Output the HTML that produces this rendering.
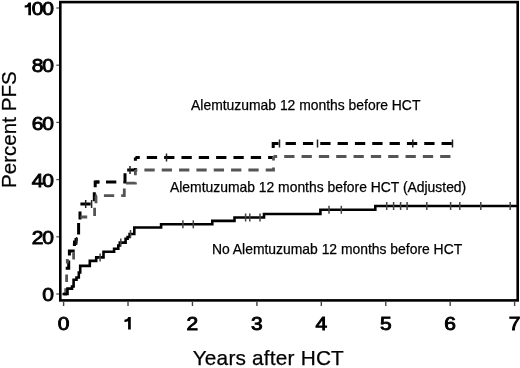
<!DOCTYPE html>
<html><head><meta charset="utf-8"><style>
html,body{margin:0;padding:0;background:#fff;width:520px;height:368px;overflow:hidden}
svg{display:block;will-change:transform}
text{font-family:"Liberation Sans",sans-serif;fill:#000;stroke:#000;stroke-width:0.25px}
.d{font-size:17.5px;stroke:#000;stroke-width:0.85px}
</style></head><body>
<svg width="520" height="368" viewBox="0 0 520 368">
<rect x="60.3" y="2.1" width="457.4" height="298.3" fill="none" stroke="#000" stroke-width="2.6"/>
<path d="M63.60,301.5V306" stroke="#444" stroke-width="1.4"/><path d="M128.03,301.5V306" stroke="#444" stroke-width="1.4"/><path d="M192.46,301.5V306" stroke="#444" stroke-width="1.4"/><path d="M256.89,301.5V306" stroke="#444" stroke-width="1.4"/><path d="M321.32,301.5V306" stroke="#444" stroke-width="1.4"/><path d="M385.75,301.5V306" stroke="#444" stroke-width="1.4"/><path d="M450.18,301.5V306" stroke="#444" stroke-width="1.4"/><path d="M514.61,301.5V306" stroke="#444" stroke-width="1.4"/><path d="M56.3,294.00H59" stroke="#555" stroke-width="1.3"/><path d="M56.3,236.80H59" stroke="#555" stroke-width="1.3"/><path d="M56.3,179.60H59" stroke="#555" stroke-width="1.3"/><path d="M56.3,122.40H59" stroke="#555" stroke-width="1.3"/><path d="M56.3,65.20H59" stroke="#555" stroke-width="1.3"/><path d="M56.3,8.00H59" stroke="#555" stroke-width="1.3"/>
<path d="M65.7,268.3H68.7V260.4M69.4,255.6V251H74.7M72.9,244.5H74.5V242H76V239.5H77.8M78.6,234.6V223M80,219.6V211.4" fill="none" stroke="#000" stroke-width="3"/><path d="M80.4,204H90.7M94.3,201.2V192.3M95.2,187.3V182H99.6" fill="none" stroke="#000" stroke-width="3"/><path d="M95.20,182.00 L125.00,182.00 L125.00,170.00" fill="none" stroke="#000" stroke-width="3" stroke-dasharray="10.3 7.03" stroke-dashoffset="6.53"/><path d="M125.00,170.00 L135.40,170.00 L135.40,157.50" fill="none" stroke="#000" stroke-width="3" stroke-dasharray="10.3 7.03" stroke-dashoffset="15.13"/><path d="M135.40,157.50 L273.20,157.50" fill="none" stroke="#000" stroke-width="3" stroke-dasharray="10.3 7.03" stroke-dashoffset="5.93"/><path d="M273.20,148.00 L273.20,143.50 L452.50,143.50" fill="none" stroke="#000" stroke-width="3" stroke-dasharray="10.3 7.03" stroke-dashoffset="0.43"/>
<path d="M63.6,294H65.7V288.2M66.6,282V274.5M67.3,263.5V259M72.3,258.2H73.6V252.3" fill="none" stroke="#555" stroke-width="2.8"/><path d="M80.4,217H87.2M94.6,216V207.7M96,203.2V195.7" fill="none" stroke="#555" stroke-width="2.8"/><path d="M95.60,195.70 L124.30,195.70 L124.30,183.20" fill="none" stroke="#555" stroke-width="2.8" stroke-dasharray="10.3 7.03" stroke-dashoffset="9.03"/><path d="M124.30,183.20 L135.40,183.20 L135.40,170.00" fill="none" stroke="#555" stroke-width="2.8" stroke-dasharray="10.3 7.03" stroke-dashoffset="15.63"/><path d="M135.40,170.00 L273.50,170.00 L273.50,156.50" fill="none" stroke="#555" stroke-width="2.8" stroke-dasharray="10.3 7.03" stroke-dashoffset="8.33"/><path d="M273.50,156.50 L451.00,156.50" fill="none" stroke="#555" stroke-width="2.8" stroke-dasharray="10.3 7.03" stroke-dashoffset="6.63"/>
<path d="M62.50,294.00 L67.50,294.00 L67.50,288.60 L72.00,288.60 L72.00,286.50 L73.60,286.50 L73.60,279.80 L76.50,279.80 L76.50,277.50 L78.80,277.50 L78.80,272.50 L80.20,272.50 L80.20,265.90 L89.80,265.90 L89.80,260.90 L96.20,260.90 L96.20,257.40 L103.50,257.40 L103.50,251.70 L114.10,251.70 L114.10,248.70 L118.30,248.70 L118.30,245.50 L119.80,245.50 L119.80,242.60 L125.60,242.60 L125.60,238.80 L127.60,238.80 L127.60,237.00 L129.60,237.00 L129.60,234.00 L134.30,234.00 L134.30,227.50 L161.10,227.50 L161.10,224.30 L212.30,224.30 L212.30,220.90 L234.50,220.90 L234.50,217.50 L264.00,217.50 L264.00,214.00 L320.40,214.00 L320.40,209.80 L375.30,209.80 L375.30,206.00 L517.00,206.00" fill="none" stroke="#000" stroke-width="2.6"/>
<path d="M100.10,253.40V261.40" stroke="#444" stroke-width="1.5"/><path d="M120.80,238.60V246.60" stroke="#444" stroke-width="1.5"/><path d="M130.50,230.00V238.00" stroke="#444" stroke-width="1.5"/><path d="M182.90,220.30V228.30" stroke="#444" stroke-width="1.5"/><path d="M193.30,220.30V228.30" stroke="#444" stroke-width="1.5"/><path d="M245.60,213.50V221.50" stroke="#444" stroke-width="1.5"/><path d="M249.80,213.50V221.50" stroke="#444" stroke-width="1.5"/><path d="M260.00,213.50V221.50" stroke="#444" stroke-width="1.5"/><path d="M329.00,205.80V213.80" stroke="#444" stroke-width="1.5"/><path d="M341.30,205.80V213.80" stroke="#444" stroke-width="1.5"/><path d="M386.70,202.00V210.00" stroke="#444" stroke-width="1.5"/><path d="M393.60,202.00V210.00" stroke="#444" stroke-width="1.5"/><path d="M400.60,202.00V210.00" stroke="#444" stroke-width="1.5"/><path d="M407.10,202.00V210.00" stroke="#444" stroke-width="1.5"/><path d="M426.80,202.00V210.00" stroke="#444" stroke-width="1.5"/><path d="M450.60,202.00V210.00" stroke="#444" stroke-width="1.5"/><path d="M459.80,202.00V210.00" stroke="#444" stroke-width="1.5"/><path d="M480.80,202.00V210.00" stroke="#444" stroke-width="1.5"/><path d="M510.20,202.00V210.00" stroke="#444" stroke-width="1.5"/>
<path d="M76.60,237.00V245.00" stroke="#222" stroke-width="1.5"/><path d="M85.70,200.00V208.00" stroke="#222" stroke-width="1.5"/><path d="M91.60,200.00V208.00" stroke="#222" stroke-width="1.5"/><path d="M130.00,166.00V174.00" stroke="#222" stroke-width="1.5"/><path d="M166.50,153.50V161.50" stroke="#222" stroke-width="1.5"/><path d="M279.50,139.50V147.50" stroke="#222" stroke-width="1.5"/><path d="M317.50,139.50V147.50" stroke="#222" stroke-width="1.5"/><path d="M412.80,139.50V147.50" stroke="#222" stroke-width="1.5"/><path d="M452.50,139.50V147.50" stroke="#222" stroke-width="1.5"/>
<text x="191.1" y="109.5" font-size="13.9">Alemtuzumab 12 months before HCT</text>
<text x="170" y="192.4" font-size="13.9">Alemtuzumab 12 months before HCT (Adjusted)</text>
<text x="212" y="253.8" font-size="13.9">No Alemtuzumab 12 months before HCT</text>
<text transform="translate(63.60,329.60) scale(1.2,1)" text-anchor="middle" class="d">0</text>
<path d="M130.78,317.00L130.78,329.60L128.08,329.60L128.08,321.30Q126.63,322.00 124.43,322.00L124.43,319.80Q127.63,319.60 128.43,317.00Z" fill="#000"/>
<text transform="translate(192.46,329.60) scale(1.2,1)" text-anchor="middle" class="d">2</text>
<text transform="translate(256.89,329.60) scale(1.2,1)" text-anchor="middle" class="d">3</text>
<text transform="translate(321.32,329.60) scale(1.2,1)" text-anchor="middle" class="d">4</text>
<text transform="translate(385.75,329.60) scale(1.2,1)" text-anchor="middle" class="d">5</text>
<text transform="translate(450.18,329.60) scale(1.2,1)" text-anchor="middle" class="d">6</text>
<text transform="translate(514.61,329.60) scale(1.2,1)" text-anchor="middle" class="d">7</text>
<text transform="translate(48.00,301.20) scale(1.2,1)" text-anchor="middle" class="d">0</text>
<text transform="translate(37.70,244.00) scale(1.2,1)" text-anchor="middle" class="d">2</text>
<text transform="translate(48.00,244.00) scale(1.2,1)" text-anchor="middle" class="d">0</text>
<text transform="translate(37.70,186.80) scale(1.2,1)" text-anchor="middle" class="d">4</text>
<text transform="translate(48.00,186.80) scale(1.2,1)" text-anchor="middle" class="d">0</text>
<text transform="translate(37.70,129.60) scale(1.2,1)" text-anchor="middle" class="d">6</text>
<text transform="translate(48.00,129.60) scale(1.2,1)" text-anchor="middle" class="d">0</text>
<text transform="translate(37.70,72.40) scale(1.2,1)" text-anchor="middle" class="d">8</text>
<text transform="translate(48.00,72.40) scale(1.2,1)" text-anchor="middle" class="d">0</text>
<path d="M31.00,2.60L31.00,15.20L28.30,15.20L28.30,6.90Q26.85,7.60 24.65,7.60L24.65,5.40Q27.85,5.20 28.65,2.60Z" fill="#000"/>
<text transform="translate(37.70,15.20) scale(1.2,1)" text-anchor="middle" class="d">0</text>
<text transform="translate(48.00,15.20) scale(1.2,1)" text-anchor="middle" class="d">0</text>
<text x="0" y="0" font-size="20.6" transform="translate(16.2,188) rotate(-90)">Percent PFS</text>
<text x="192.7" y="364.6" font-size="20.8" letter-spacing="0.2">Years after HCT</text>
</svg>
</body></html>
